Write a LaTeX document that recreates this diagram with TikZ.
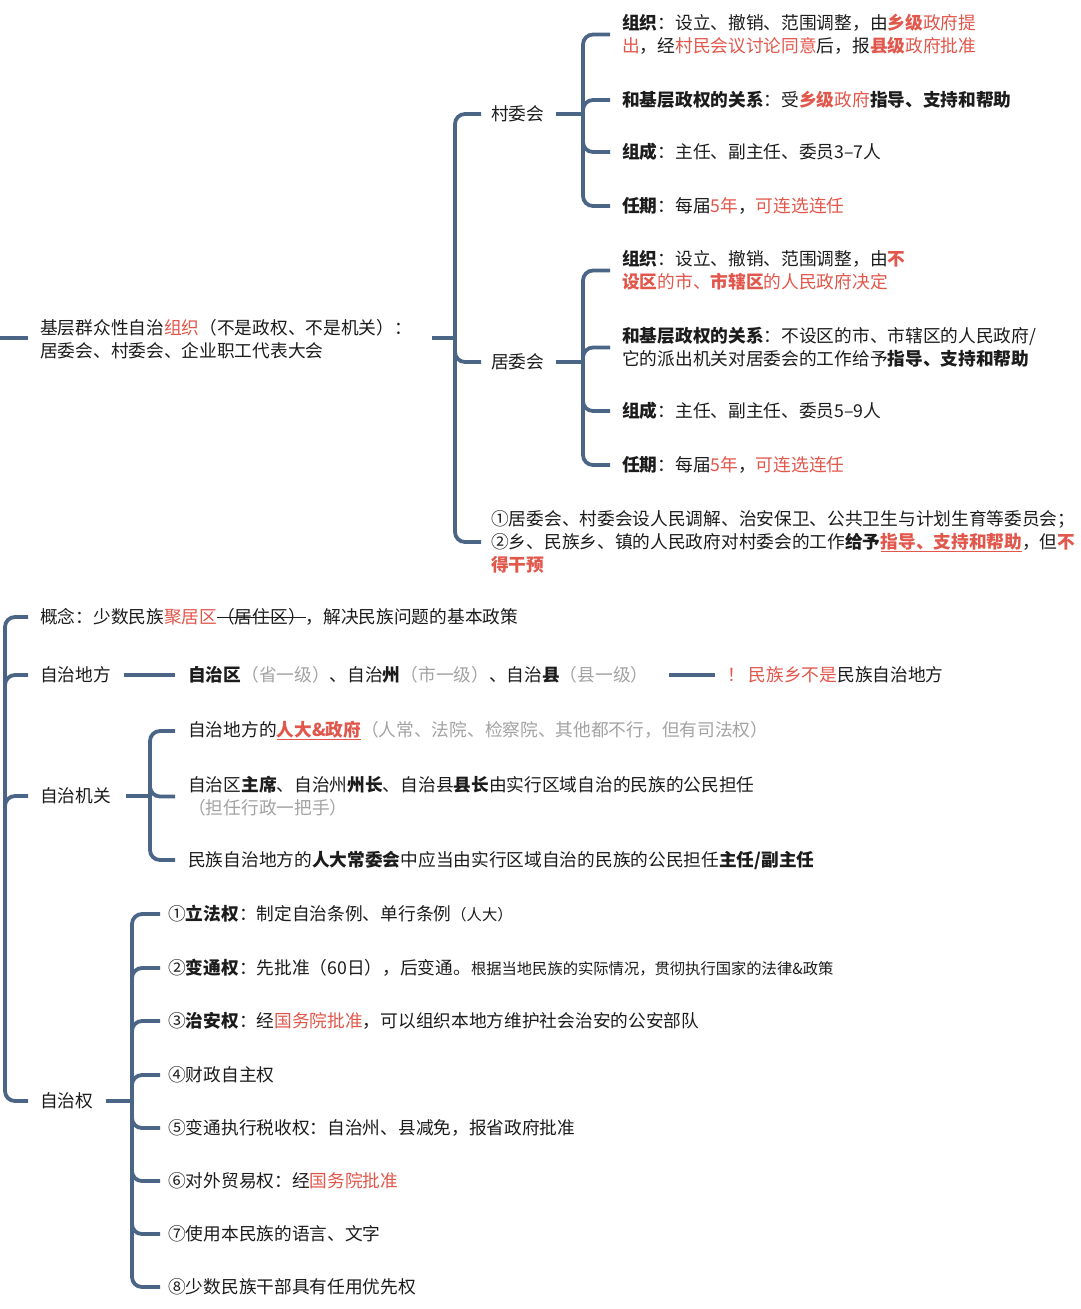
\documentclass[tikz,border=0pt]{standalone}
\usepackage{fontspec}
\setmainfont{Noto Sans CJK SC}
\usetikzlibrary{calc}
\definecolor{lineblue}{HTML}{4A6585}
\definecolor{cred}{HTML}{E2574C}
\definecolor{cgray}{HTML}{A3A3A3}
\definecolor{ctext}{HTML}{1C1C1C}
\newcommand{\rd}[1]{{\color{cred}#1}}
\newcommand{\gr}[1]{{\color{cgray}#1}}
\newcommand{\bd}[1]{\textbf{#1}}
\newcommand{\smallfs}{\fontsize{15.3}{18}\selectfont}
\newsavebox{\mylinebox}
\newcommand{\myul}[1]{\sbox\mylinebox{#1}\rlap{\rule[-3.5pt]{\wd\mylinebox}{1.2pt}}\usebox\mylinebox}
\newcommand{\mystrk}[1]{\sbox\mylinebox{#1}\rlap{\rule[5.5pt]{\wd\mylinebox}{1.2pt}}\usebox\mylinebox}
\begin{document}
\begin{tikzpicture}[x=1pt,y=-1pt,
  conn/.style={draw=lineblue, line width=3.8pt, rounded corners=10pt},
  txt/.style={anchor=west, inner sep=0pt, align=left, text=ctext,
    font=\fontsize{17.7}{23}\selectfont}]
\fill[white] (0,0) rectangle (1080,1309);
\useasboundingbox (0,0) rectangle (1080,1309);

% ---------- Section 1 ----------
\node[txt] (root) at (40,339.5) {基层群众性自治\rd{组织}（不是政权、不是机关）：\\居委会、村委会、企业职工代表大会};
\coordinate (s1) at (0,338);
\coordinate (h1) at (455,338);
\draw[conn] (s1) -- ([xshift=-12pt]s1 -| root.west);
\draw[conn] ([xshift=20pt]root.east |- h1) -- (h1);

\node[txt] (cun) at (491,114) {村委会};
\node[txt] (ju) at (491,362) {居委会};
\node[txt] (note) at (491,542) {①居委会、村委会设人民调解、治安保卫、公共卫生与计划生育等委员会；\\②乡、民族乡、镇的人民政府对村委会的工作\bd{给予}\rd{\bd{\myul{指导、支持和帮助}}}，但\rd{\bd{不}}\\\rd{\bd{得干预}}};
\foreach \n in {cun,ju,note} \draw[conn] (h1) |- ([xshift=-10pt]\n.west);

% 村委会
\coordinate (h2) at (583,114);
\draw[conn] ([xshift=11pt]cun.east) -- (h2);
\node[txt] (c1) at (622,34.5) {\bd{组织}：设立、撤销、范围调整，由\rd{\bd{乡级}政府提}\\\rd{出}，经\rd{村民会议讨论同意}后，报\rd{\bd{县级}政府批准}};
\node[txt] (c2) at (622,100) {\bd{和基层政权的关系}：受\rd{\bd{乡级}政府}\bd{指导、支持和帮助}};
\node[txt] (c3) at (622,152) {\bd{组成}：主任、副主任、委员3–7人};
\node[txt] (c4) at (622,206) {\bd{任期}：每届\rd{5年}，\rd{可连选连任}};
\foreach \n in {c1,c2,c3,c4} \draw[conn] (h2) |- ([xshift=-12pt]\n.west);

% 居委会
\coordinate (h3) at (583,362);
\draw[conn] ([xshift=11pt]ju.east) -- (h3);
\node[txt] (j1) at (622,270.5) {\bd{组织}：设立、撤销、范围调整，由\rd{\bd{不}}\\\rd{\bd{设区}的市、\bd{市辖区}的人民政府决定}};
\node[txt] (j2) at (622,347.5) {\bd{和基层政权的关系}：不设区的市、市辖区的人民政府/\\它的派出机关对居委会的工作给予\bd{指导、支持和帮助}};
\node[txt] (j3) at (622,411) {\bd{组成}：主任、副主任、委员5–9人};
\node[txt] (j4) at (622,465) {\bd{任期}：每届\rd{5年}，\rd{可连选连任}};
\foreach \n in {j1,j2,j3,j4} \draw[conn] (h3) |- ([xshift=-12pt]\n.west);

% ---------- Section 2 ----------
\coordinate (h4) at (5,860);
\node[txt] (gn) at (40,617) {概念：少数民族\rd{聚居区}\mystrk{（居住区）}，解决民族问题的基本政策};
\node[txt] (df) at (40,675) {自治地方};
\node[txt] (jg) at (40,796) {自治机关};
\node[txt] (zq) at (40,1101) {自治权};
\foreach \n in {gn,df,jg,zq} \draw[conn] (h4) |- ([xshift=-12pt]\n.west);

% 自治地方
\node[txt] (lv) at (188,675) {\bd{自治区}\gr{（省一级）}、自治\bd{州}\gr{（市一级）}、自治\bd{县}\gr{（县一级）}};
\draw[conn] ([xshift=13pt]df.east) -- ([xshift=-13pt]lv.west);
\node[txt] (wn) at (727,675) {\rd{！\hspace{4pt}民族乡不是}民族自治地方};
\draw[conn] ([xshift=20pt]lv.east) -- ([xshift=-12pt]wn.west);

% 自治机关
\coordinate (h5) at (150,796);
\draw[conn] ([xshift=15pt]jg.east) -- (h5);
\node[txt] (g1) at (188,731) {自治地方的\rd{\bd{\myul{人大\&政府}}}\gr{（人常、法院、检察院、其他都不行，但有司法权）}};
\node[txt] (g2) at (188,796.5) {自治区\bd{主席}、自治州\bd{州长}、自治县\bd{县长}由实行区域自治的民族的公民担任\\\gr{（担任行政一把手）}};
\node[txt] (g3) at (188,860) {民族自治地方的\bd{人大常委会}中应当由实行区域自治的民族的公民担任\bd{主任/副主任}};
\foreach \n in {g1,g2,g3} \draw[conn] (h5) |- ([xshift=-13pt]\n.west);

% 自治权
\coordinate (h6) at (132,1101);
\draw[conn] ([xshift=12pt]zq.east) -- (h6);
\node[txt] (r1) at (168,914) {①\bd{立法权}：制定自治条例、单行条例{\smallfs（人大）}};
\node[txt] (r2) at (168,968) {②\bd{变通权}：先批准（60日），后变通。{\smallfs 根据当地民族的实际情况，贯彻执行国家的法律\&政策}};
\node[txt] (r3) at (168,1021) {③\bd{治安权}：经\rd{国务院批准}，可以组织本地方维护社会治安的公安部队};
\node[txt] (r4) at (168,1075) {④财政自主权};
\node[txt] (r5) at (168,1128) {⑤变通执行税收权：自治州、县减免，报省政府批准};
\node[txt] (r6) at (168,1181) {⑥对外贸易权：经\rd{国务院批准}};
\node[txt] (r7) at (168,1234) {⑦使用本民族的语言、文字};
\node[txt] (r8) at (168,1287) {⑧少数民族干部具有任用优先权};
\foreach \n in {r1,r2,r3,r4,r5,r6,r7,r8} \draw[conn] (h6) |- ([xshift=-8pt]\n.west);
\end{tikzpicture}
\end{document}
